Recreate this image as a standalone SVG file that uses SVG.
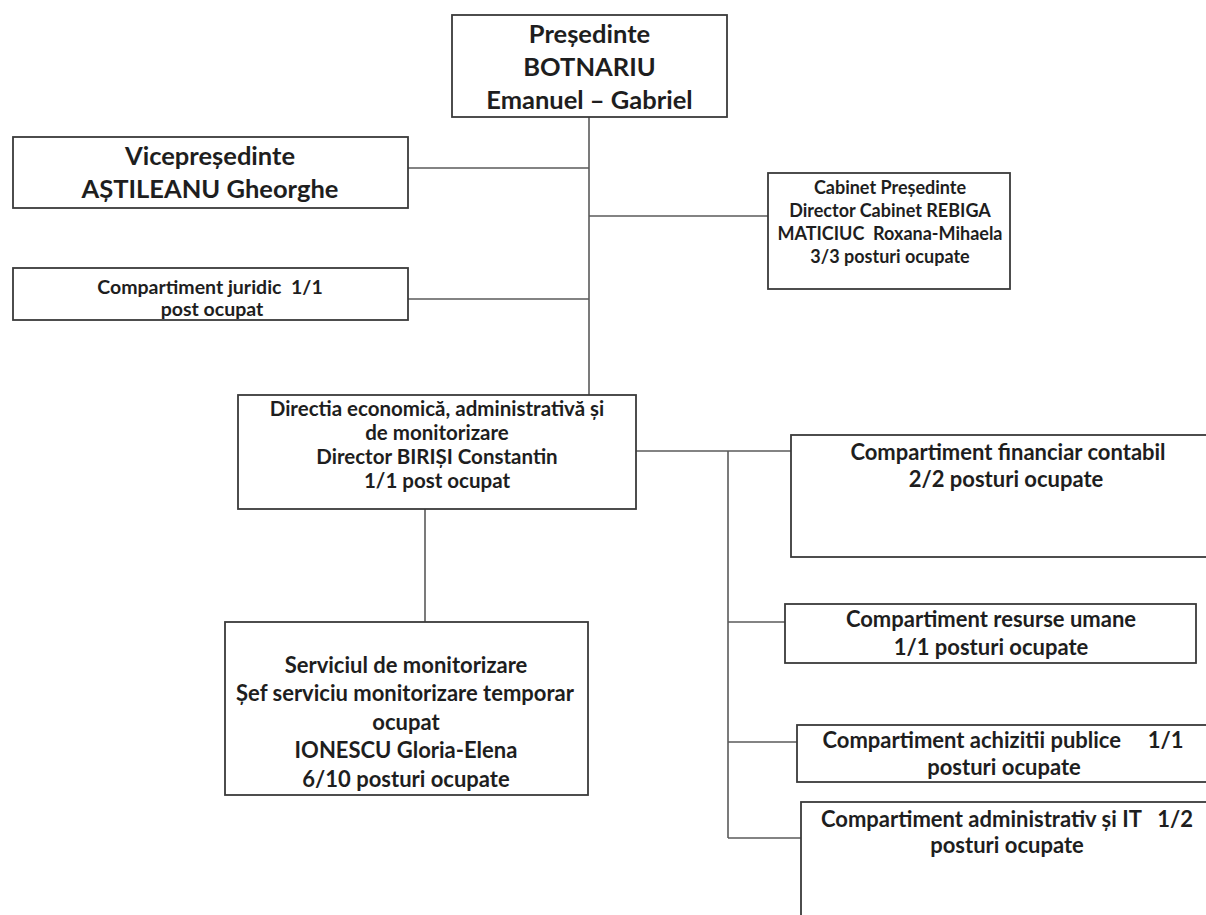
<svg xmlns="http://www.w3.org/2000/svg" width="1206" height="915" viewBox="0 0 1206 915">
<style>
  .box { fill: #ffffff; stroke: #3a3a3a; stroke-width: 1.8; }
  .ln { fill: none; stroke: #5a5a5a; stroke-width: 1.6; }
  text { font-family: Lato, "Liberation Sans", "Noto Sans", sans-serif; font-weight: bold; fill: #1e1e1e; text-anchor: middle; white-space: pre; }
  .big { font-size: 25.5px; }
  .mid { font-size: 22px; }
  .dir { font-size: 20.5px; }
  .sm { font-size: 18px; }
  .jur { font-size: 19.5px; }
</style>
<rect width="1206" height="915" fill="#ffffff"/>
<g id="connectors">
  <line class="ln" x1="589" y1="117" x2="589" y2="395"/>
  <line class="ln" x1="408" y1="168" x2="589" y2="168"/>
  <line class="ln" x1="589" y1="216" x2="768" y2="216"/>
  <line class="ln" x1="408" y1="299" x2="589" y2="299"/>
  <line class="ln" x1="636" y1="451" x2="791" y2="451"/>
  <line class="ln" x1="728" y1="451" x2="728" y2="838"/>
  <line class="ln" x1="728" y1="622" x2="785" y2="622"/>
  <line class="ln" x1="728" y1="742" x2="797" y2="742"/>
  <line class="ln" x1="728" y1="838" x2="801" y2="838"/>
  <line class="ln" x1="425" y1="509" x2="425" y2="622"/>
</g>
<g id="presedinte">
  <rect class="box" x="452" y="15" width="275" height="102"/>
  <text class="big" x="589.5" y="43">Președinte</text>
  <text class="big" x="589.5" y="76">BOTNARIU</text>
  <text class="big" x="589.5" y="109">Emanuel – Gabriel</text>
</g>
<g id="vicepresedinte">
  <rect class="box" x="13" y="137" width="395" height="71"/>
  <text class="big" x="210" y="165">Vicepreședinte</text>
  <text class="big" x="210" y="198">AȘTILEANU Gheorghe</text>
</g>
<g id="juridic">
  <rect class="box" x="13" y="268" width="395" height="52"/>
  <text class="jur" x="210" y="294" xml:space="preserve">Compartiment juridic  1/1</text>
  <text class="jur" x="212" y="316">post ocupat</text>
</g>
<g id="cabinet">
  <rect class="box" x="768" y="173" width="242" height="116"/>
  <text class="sm" x="890" y="194">Cabinet Președinte</text>
  <text class="sm" x="890" y="217">Director Cabinet REBIGA</text>
  <text class="sm" x="890" y="240" xml:space="preserve">MATICIUC  Roxana-Mihaela</text>
  <text class="sm" x="890" y="263">3/3 posturi ocupate</text>
</g>
<g id="directia">
  <rect class="box" x="238" y="395" width="398" height="114"/>
  <text class="dir" x="437" y="416">Directia economică, administrativă și</text>
  <text class="dir" x="437" y="440">de monitorizare</text>
  <text class="dir" x="437" y="464">Director BIRIȘI Constantin</text>
  <text class="dir" x="437" y="488">1/1 post ocupat</text>
</g>
<g id="financiar">
  <rect class="box" x="791" y="435" width="430" height="122"/>
  <text class="mid" x="1008" y="460">Compartiment financiar contabil</text>
  <text class="mid" x="1006" y="487">2/2 posturi ocupate</text>
</g>
<g id="serviciul">
  <rect class="box" x="225" y="622" width="363" height="173"/>
  <text class="mid" x="406" y="673">Serviciul de monitorizare</text>
  <text class="mid" x="405" y="701">Șef serviciu monitorizare temporar</text>
  <text class="mid" x="406" y="730">ocupat</text>
  <text class="mid" x="406" y="758">IONESCU Gloria-Elena</text>
  <text class="mid" x="406" y="787">6/10 posturi ocupate</text>
</g>
<g id="resurse">
  <rect class="box" x="785" y="604" width="411" height="59"/>
  <text class="mid" x="991" y="627">Compartiment resurse umane</text>
  <text class="mid" x="991" y="655">1/1 posturi ocupate</text>
</g>
<g id="achizitii">
  <rect class="box" x="797" y="725" width="425" height="57"/>
  <text class="mid" x="1003" y="748" xml:space="preserve">Compartiment achizitii publice     1/1</text>
  <text class="mid" x="1004" y="775">posturi ocupate</text>
</g>
<g id="administrativ">
  <rect class="box" x="801" y="802" width="425" height="140"/>
  <text class="mid" x="1007" y="827" xml:space="preserve">Compartiment administrativ și IT   1/2</text>
  <text class="mid" x="1007" y="853">posturi ocupate</text>
</g>
</svg>
